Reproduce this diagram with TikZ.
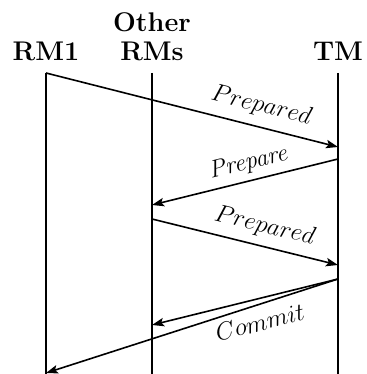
\documentclass[tikz,border=0pt]{standalone}
\usepackage{fontspec}
\usetikzlibrary{arrows.meta}
\begin{document}
\begin{tikzpicture}[x=1pt,y=1pt,
  head/.style={font=\fontsize{27}{29}\selectfont\bfseries, anchor=south, inner sep=0pt, align=center},
  life/.style={line width=1.6pt},
  msg/.style={line width=1.6pt, -{Stealth[length=12pt,width=8.5pt,inset=2.5pt]}},
  lab/.style={font=\fontsize{24.6}{29}\selectfont, inner sep=0pt, sloped}]
\useasboundingbox (0,0) rectangle (366,374);
% headers
\node[head] (rm1) at (46,313) {RM1};
\node[head] (oth) at (152,313) {Other\\RMs};
\node[head] (tm)  at (338,313) {TM};
% lifelines
\coordinate (rt) at (46,301);  \coordinate (rb) at (46,0);
\coordinate (ot) at (152,301); \coordinate (ob) at (152,0);
\coordinate (tt) at (338,301); \coordinate (tb) at (338,0);
\draw[life] (rt) -- (rb);
\draw[life] (ot) -- (ob);
\draw[life] (tt) -- (tb);
% message points
\coordinate (t1) at (338,227);
\coordinate (t2) at (338,215);
\coordinate (o2) at (152,169);
\coordinate (o3) at (152,155);
\coordinate (t3) at (338,109);
\coordinate (t4) at (338,95);
\coordinate (o4) at (152,49);
\coordinate (r4) at (46,1);
% messages
\draw[msg] (rt) -- node[lab, pos=0.72, above=9pt] {$Prepared$} (t1);
\draw[msg] (t2) -- node[lab, pos=0.46, above=6pt] {\itshape Prepare} (o2);
\draw[msg] (o3) -- node[lab, pos=0.58, above=8pt] {$Prepared$} (t3);
\draw[msg] (t4) -- node[lab, pos=0.45, below=14pt] {$Commit$} (o4);
\draw[msg] (t4) -- (r4);
\end{tikzpicture}
\end{document}
